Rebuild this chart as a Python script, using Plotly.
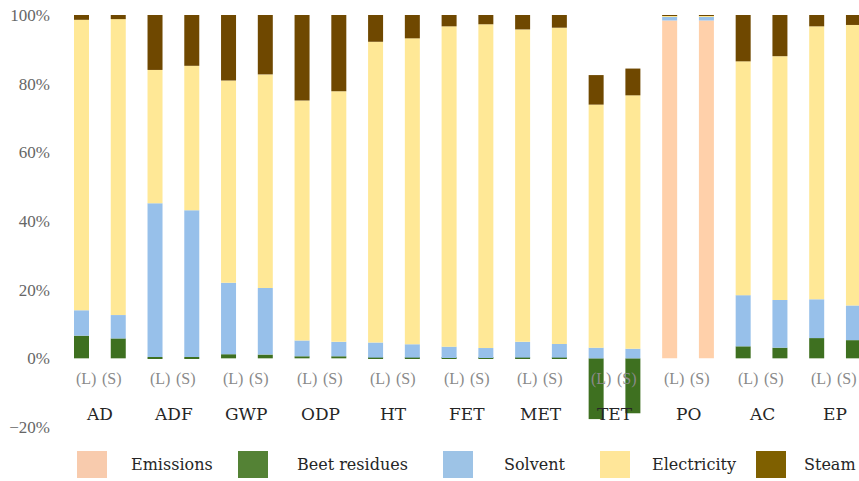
import plotly.graph_objects as go

groups = ["AD", "ADF", "GWP", "ODP", "HT", "FET", "MET", "TET", "PO", "AC", "EP"]
variants = ["(L)", "(S)"]
y_ticks = [-20, 0, 20, 40, 60, 80, 100]

# segment shares (%) for each bar: AD(L), AD(S), ADF(L), ADF(S), ...
emissions = [0, 0, 0, 0, 0, 0, 0, 0, 0, 0, 0, 0, 0, 0, 0, 0, 98.4, 98.4, 0, 0, 0, 0]
beet_residues = [6.6, 5.8, 0.4, 0.4, 1.2, 1.1, 0.6, 0.6, 0.2, 0.2, 0.1, 0.1, 0.2, 0.2,
                 -17.7, -16.0, 0, 0, 3.5, 3.1, 5.9, 5.3]
solvent = [7.4, 6.8, 44.8, 42.7, 20.8, 19.4, 4.6, 4.2, 4.4, 3.9, 3.3, 2.9, 4.6, 4.0,
           3.1, 2.8, 1.2, 1.2, 14.9, 13.9, 11.3, 10.1]
electricity = [84.6, 86.2, 38.8, 42.1, 58.9, 62.2, 69.9, 73.0, 87.6, 89.1, 93.3, 94.3,
               91.0, 92.1, 70.8, 73.8, 0.2, 0.2, 68.1, 71.0, 79.5, 81.7]
steam = [1.4, 1.2, 16.0, 14.8, 19.1, 17.3, 24.9, 22.2, 7.8, 6.8, 3.3, 2.7, 4.2, 3.7,
         8.6, 7.8, 0.2, 0.2, 13.5, 12.0, 3.3, 2.9]

series = [
    ("Emissions", emissions, "#FFD0AA", "#F8CBAD"),
    ("Beet residues", beet_residues, "#3E7020", "#548235"),
    ("Solvent", solvent, "#97C0EA", "#9DC3E6"),
    ("Electricity", electricity, "#FFE896", "#FFE699"),
    ("Steam", steam, "#6F4800", "#7F6000"),
]

x = list(range(len(groups) * 2))

fig = go.Figure()
for name, vals, col, _ in series:
    fig.add_trace(go.Bar(x=x, y=vals, name=name, width=0.408,
                         marker=dict(color=col, line=dict(width=0)),
                         showlegend=False))

W, H = 859, 481
ml, mr, mt, mb = 55, 0, 15, 54
pw, ph = W - ml - mr, H - mt - mb

annotations = []
for g, name in enumerate(groups):
    c = 2 * g + 0.5
    for k, v in enumerate(variants):
        annotations.append(dict(x=c + (-0.37 if k == 0 else 0.33), y=-6.0, xref="x", yref="y",
                                text=v, showarrow=False,
                                font=dict(family="Liberation Serif", size=16, color="#8a8a8a")))
    annotations.append(dict(x=c, y=-16.2, xref="x", yref="y", text=name,
                            showarrow=False, font=dict(family="DejaVu Serif", size=17, color="#262626")))

# legend (custom, large swatches)
box_left = [77, 238, 443, 600, 756]
text_left = [130, 296, 503, 651, 804]
shapes = []
for i, ((name, _, _, lcol), bx, tx) in enumerate(zip(series, box_left, text_left)):
    shapes.append(dict(type="rect", xref="paper", yref="paper",
                       x0=(bx - ml) / pw, x1=(bx + 30 - ml) / pw,
                       y0=(H - mb - 451) / ph, y1=(H - mb - 478) / ph,
                       fillcolor=lcol, line=dict(width=0)))
    last = i == len(series) - 1
    annotations.append(dict(x=((857 if last else tx) - ml) / pw, y=(H - mb - 464) / ph,
                            xref="paper", yref="paper",
                            xanchor="right" if last else "left", yanchor="middle",
                            text=name, showarrow=False, borderpad=0,
                            font=dict(family="DejaVu Serif", size=16, color="#262626")))

fig.update_layout(
    width=W, height=H,
    margin=dict(l=ml, r=mr, t=mt, b=mb),
    barmode="relative",
    plot_bgcolor="white", paper_bgcolor="white",
    xaxis=dict(range=[-0.721, 21.151], showticklabels=False, showgrid=False,
               zeroline=False, showline=False, ticks=""),
    yaxis=dict(range=[-20, 100], tickmode="array", tickvals=y_ticks,
               ticktext=[(f"\u2212{abs(v)}%" if v < 0 else f"{v}%") for v in y_ticks],
               showgrid=False, zeroline=False, showline=False, ticks="",
               ticklabelstandoff=4,
               tickfont=dict(family="Liberation Serif", size=17, color="#666666")),
    annotations=annotations,
    shapes=shapes,
)

fig.write_html("out.html")
